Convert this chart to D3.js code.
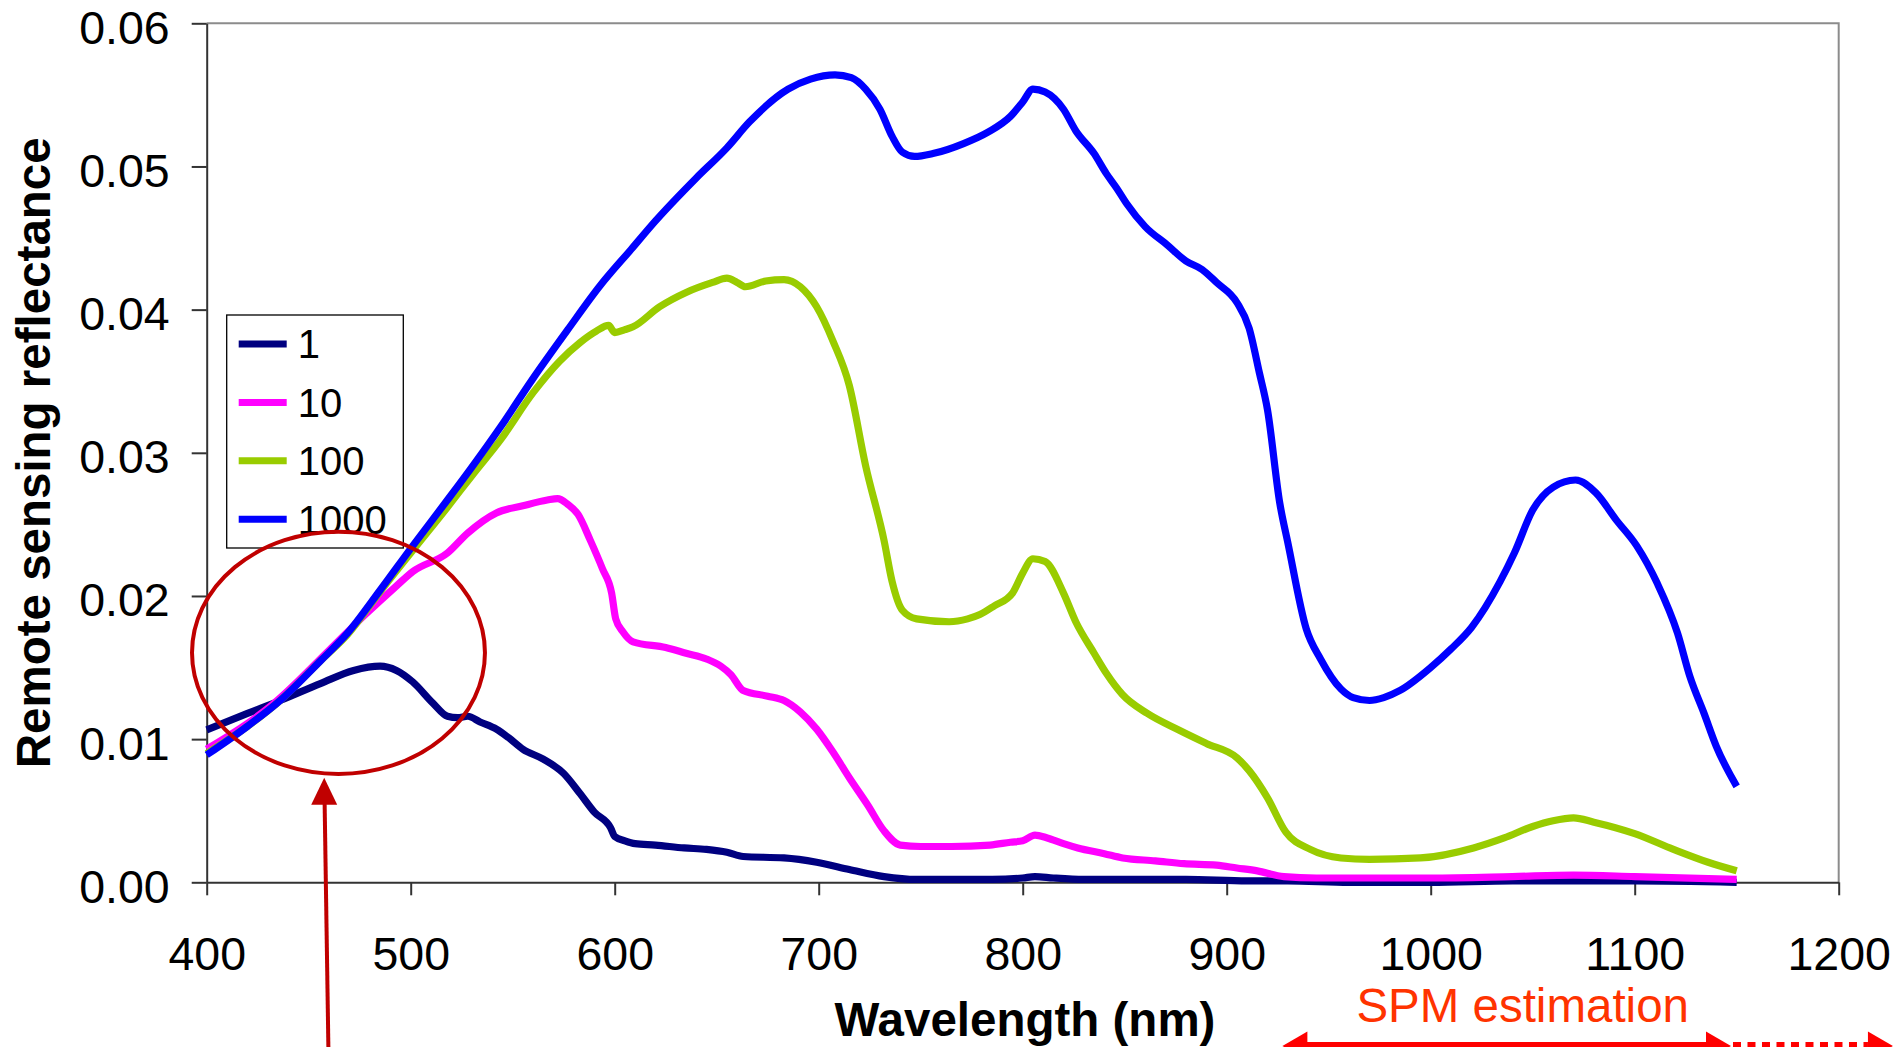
<!DOCTYPE html>
<meta charset="utf-8">

<!-- Load d3.js -->
<script src="https://d3js.org/d3.v7.min.js"></script>

<style>
  body { margin: 0; background: #fff; }
  text { font-family: "Liberation Sans", Arial, sans-serif; }
</style>

<!-- Create a div where the graph will take place -->
<div id="chart"></div>

<script>
  const series1 = [[400, .01065], [420, .0118], [436, .0127], [456, .0139], [472, .0148], [485, .0151], [493, .0148],
    [501, .0140], [511, .0125], [518, .0116], [523, .0115], [528, .0116], [534, .0112], [542, .0107], [548, .0101],
    [555, .0093], [565, .0086], [575, .0076], [583, .0062], [590, .0049], [598, .0038], [600, .0032], [605, .0029],
    [610, .0027], [620, .0026], [634, .0024], [645, .0023], [655, .0021], [663, .0018], [683, .0017], [699, .0014],
    [715, .0009], [732, .0004], [748, .0002], [765, .0002], [785, .0002], [800, .0003], [806, .0004], [815, .0003],
    [830, .0002], [850, .0002], [880, .0002], [910, .0001], [930, .0001], [960, .0000], [1000, .0000], [1040, .0001],
    [1070, .0001], [1100, .0001], [1150, .0000]];

  const series10 = [[400, .0093], [433, .0125], [460, .0162], [477, .0186], [493, .0207], [501, .0217], [518, .0230],
    [528, .0244], [542, .0258], [555, .0263], [567, .0267], [572, .0268], [577, .0264], [582, .0257], [588, .0239],
    [594, .0219], [598.5, .0202], [600.5, .0184], [604, .0175], [609, .0168], [625, .0164], [635, .0160], [645, .0156],
    [652, .0151], [657, .0145], [663, .0134], [675, .0130], [683, .0127], [691, .0119], [699, .0107], [707, .0091],
    [715, .0073], [724, .0054], [732, .0036], [740, .0026], [750, .0025], [765, .0025], [784, .0026], [794, .0028],
    [800, .0029], [806, .0033], [812, .0031], [820, .0027], [827, .0024], [840, .0020], [849, .0017], [865, .0015],
    [879, .0013], [895, .0012], [905, .0010], [915, .0008], [928, .0004], [944, .0003], [970, .0003], [1000, .0003],
    [1040, .0004], [1070, .0005], [1100, .0004], [1150, .0002]];

  const series100 = [[400, .0090], [420, .0109], [436, .0127], [456, .0155], [469, .0173], [485, .0203], [500, .0230],
    [518, .0262], [530, .0284], [544, .0309], [560, .0342], [573, .0364], [583, .0377], [591, .0385], [597, .0389],
    [600, .0384], [605, .0386], [609, .0388], [622, .0402], [635, .0412], [648, .0419], [655, .0422], [660, .0419],
    [664, .0416], [674, .0420], [683, .0421], [691, .0416], [699, .0402], [707, .0378], [715, .0347], [723, .0291],
    [732, .0239], [736, .0210], [741, .0190], [748, .0184], [764, .0182], [773, .0184], [779, .0187], [786, .0193],
    [795, .0202], [800, .0216], [805, .0226], [811, .0224], [820, .0202], [826, .0182], [835, .0160], [841, .0146],
    [849, .0131], [861, .0118], [877, .0106], [890, .0097], [905, .0087], [911, .0078], [920, .0059], [929, .0035],
    [941, .0023], [956, .0017], [970, .0016], [995, .0017], [1021, .0024], [1036, .0031], [1050, .0039], [1060, .0043],
    [1070, .0045], [1080, .0042], [1100, .0034], [1119, .0023], [1136, .0014], [1150, .0008]];

  const series1000 = [[400, .0089], [420, .0109], [436, .0127], [456, .0155], [469, .0174], [485, .0204], [501, .0235],
    [518, .0267], [530, .0290], [544, .0318], [560, .0352], [577, .0386], [593, .0417], [608, .0442], [620, .0462],
    [640, .0492], [655, .0513], [666, .0531], [685, .0554], [696, .0561], [708, .0564], [716, .0562], [723, .0554],
    [730, .0540], [736, .0521], [741, .0510], [747, .0507], [756, .0509], [771, .0516], [783, .0524], [794, .0535],
    [800, .0545], [805, .0554], [811, .0552], [820, .0540], [826, .0525], [835, .0509], [841, .0495], [846, .0485],
    [851, .0474], [860, .0458], [871, .0445], [880, .0434], [888, .0428], [895, .0419], [905, .0405], [911, .0387],
    [916, .0356], [920, .0330], [926, .0265], [930, .0237], [939, .0177], [946, .0156], [956, .0135], [962, .0129],
    [970, .0127], [977, .0129], [985, .0134], [1000, .0150], [1010, .0163], [1020, .0178], [1034, .0210], [1041, .0230],
    [1050, .0260], [1060, .0276], [1071, .0281], [1081, .0272], [1091, .0253], [1101, .0235], [1111, .0209],
    [1121, .0174], [1127, .0144], [1134, .0118], [1140, .0095], [1150, .0067]];

  const seriesNames = ["1", "10", "100", "1000"];
  const seriesData = [series1, series10, series100, series1000];
  const seriesColors = ["#000080", "#ff00ff", "#99cc00", "#0000ff"];

  const xTicks = [400, 500, 600, 700, 800, 900, 1000, 1100, 1200];
  const yTicks = [0, 0.01, 0.02, 0.03, 0.04, 0.05, 0.06];

  // set the dimensions and margins of the graph
  const W = 1893, H = 1047;
  const margin = { top: 23.3, right: 54.3, bottom: 164.7, left: 206.7 },
    width = W - margin.left - margin.right,
    height = H - margin.top - margin.bottom;

  const svg = d3.select("#chart")
    .append("svg")
    .attr("width", W)
    .attr("height", H)
    .style("display", "block");

  svg.append("rect").attr("width", W).attr("height", H).attr("fill", "#fff");

  const x = d3.scaleLinear().domain([400, 1200]).range([margin.left, margin.left + width]);
  const y = d3.scaleLinear().domain([0, 0.06]).range([margin.top + height, margin.top]);

  // frame (top and right edges)
  svg.append("path")
    .attr("d", `M${x(400)},${y(0.06)}H${x(1200)}V${y(0)}`)
    .attr("fill", "none")
    .attr("stroke", "#8c8c8c")
    .attr("stroke-width", 2);

  // X axis
  const gx = svg.append("g")
    .attr("transform", `translate(0,${y(0)})`)
    .call(d3.axisBottom(x).tickValues(xTicks).tickFormat(d3.format("d"))
      .tickSizeInner(13).tickSizeOuter(0).tickPadding(42));

  // Y axis
  const gy = svg.append("g")
    .attr("transform", `translate(${x(400)},0)`)
    .call(d3.axisLeft(y).tickValues(yTicks).tickFormat(d3.format(".2f"))
      .tickSizeInner(15).tickSizeOuter(0).tickPadding(22));
  gy.selectAll(".tick text").attr("dy", "0.43em");

  [gx, gy].forEach(g => {
    g.select(".domain").attr("stroke", "#333").attr("stroke-width", 2);
    g.selectAll(".tick line").attr("stroke", "#333").attr("stroke-width", 2);
    g.selectAll(".tick text")
      .attr("fill", "#000")
      .style("font-size", "46.5px")
      .style("font-family", "'Liberation Sans', Arial, sans-serif");
  });

  // axis titles
  svg.append("text")
    .attr("x", 1025)
    .attr("y", 1036)
    .attr("text-anchor", "middle")
    .style("font-size", "47.5px")
    .style("font-weight", "bold")
    .text("Wavelength (nm)");

  svg.append("text")
    .attr("transform", `translate(50,${(y(0) + y(0.06)) / 2}) rotate(-90)`)
    .attr("text-anchor", "middle")
    .style("font-size", "47.5px")
    .style("font-weight", "bold")
    .text("Remote sensing reflectance");

  // spectra
  const line = d3.line()
    .x(d => x(d[0]))
    .y(d => y(d[1]))
    .curve(d3.curveMonotoneX);

  svg.selectAll(".spectrum")
    .data(seriesData)
    .join("path")
    .attr("class", "spectrum")
    .attr("d", line)
    .attr("fill", "none")
    .attr("stroke", (d, i) => seriesColors[i])
    .attr("stroke-width", 7.2)
    .attr("stroke-linejoin", "round");

  // legend
  const lg = { x: 226.7, y: 315, w: 176.6, h: 233, rowTop: 29, rowStep: 58.4 };
  svg.append("clipPath").attr("id", "legclip")
    .append("rect").attr("x", lg.x).attr("y", lg.y).attr("width", lg.w).attr("height", lg.h);
  svg.append("rect")
    .attr("x", lg.x).attr("y", lg.y).attr("width", lg.w).attr("height", lg.h)
    .attr("fill", "#fff").attr("stroke", "#000").attr("stroke-width", 1.3);
  const rows = svg.append("g").attr("clip-path", "url(#legclip)")
    .selectAll("g")
    .data(seriesNames)
    .join("g")
    .attr("transform", (d, i) => `translate(${lg.x},${lg.y + lg.rowTop + i * lg.rowStep})`);
  rows.append("line")
    .attr("x1", 12).attr("x2", 60)
    .attr("stroke", (d, i) => seriesColors[i])
    .attr("stroke-width", 7);
  rows.append("text")
    .attr("x", 71)
    .attr("dy", "0.36em")
    .style("font-size", "40px")
    .text(d => d);

  // annotation: ellipse round the blue region and pointer arrow
  const note = { wl: 464.6, rrs: 0.01603, rxNm: 71.8, ryRrs: 0.00846 };
  const darkRed = "#c00000";
  svg.append("ellipse")
    .attr("cx", x(note.wl)).attr("cy", y(note.rrs))
    .attr("rx", x(400 + note.rxNm) - x(400))
    .attr("ry", y(0) - y(note.ryRrs))
    .attr("fill", "none")
    .attr("stroke", darkRed)
    .attr("stroke-width", 4);

  const pointer = { tipWl: 457.6, tipRrs: 0.0073, baseWl: 459.7, baseRrs: -0.0120 };
  const tipX = x(pointer.tipWl), tipY = y(pointer.tipRrs);
  svg.append("line")
    .attr("x1", x(pointer.baseWl)).attr("y1", y(pointer.baseRrs))
    .attr("x2", tipX + 0.4).attr("y2", tipY + 24)
    .attr("stroke", darkRed).attr("stroke-width", 4);
  svg.append("path")
    .attr("d", `M${tipX},${tipY}L${tipX - 13},${tipY + 27}L${tipX + 13},${tipY + 27}Z`)
    .attr("fill", darkRed);

  // SPM estimation range
  const spm = { from: 927.3, to: 1147.2, beyond: 1226.6 };
  const ay = y(0) + 163.7, head = 25, half = 14.5;
  const red = "#ff0000";
  svg.append("line")
    .attr("x1", x(spm.from) + head - 1).attr("x2", x(spm.to) - head + 1)
    .attr("y1", ay).attr("y2", ay)
    .attr("stroke", red).attr("stroke-width", 8);
  svg.append("line")
    .attr("x1", x(spm.to) + 2).attr("x2", x(spm.beyond) - head)
    .attr("y1", ay).attr("y2", ay)
    .attr("stroke", red).attr("stroke-width", 8)
    .attr("stroke-dasharray", "8,6.5");
  const heads = [
    [x(spm.from), -1],
    [x(spm.to), 1],
    [x(spm.beyond), 1]
  ];
  svg.selectAll(".spmhead")
    .data(heads)
    .join("path")
    .attr("class", "spmhead")
    .attr("d", d => `M${d[0]},${ay}L${d[0] - d[1] * head},${ay - half}L${d[0] - d[1] * head},${ay + half}Z`)
    .attr("fill", red);

  svg.append("text")
    .attr("x", (x(spm.from) + x(spm.to)) / 2 + 16)
    .attr("y", 1022)
    .attr("text-anchor", "middle")
    .attr("fill", "#ff3300")
    .style("font-size", "47.5px")
    .text("SPM estimation");
</script>
